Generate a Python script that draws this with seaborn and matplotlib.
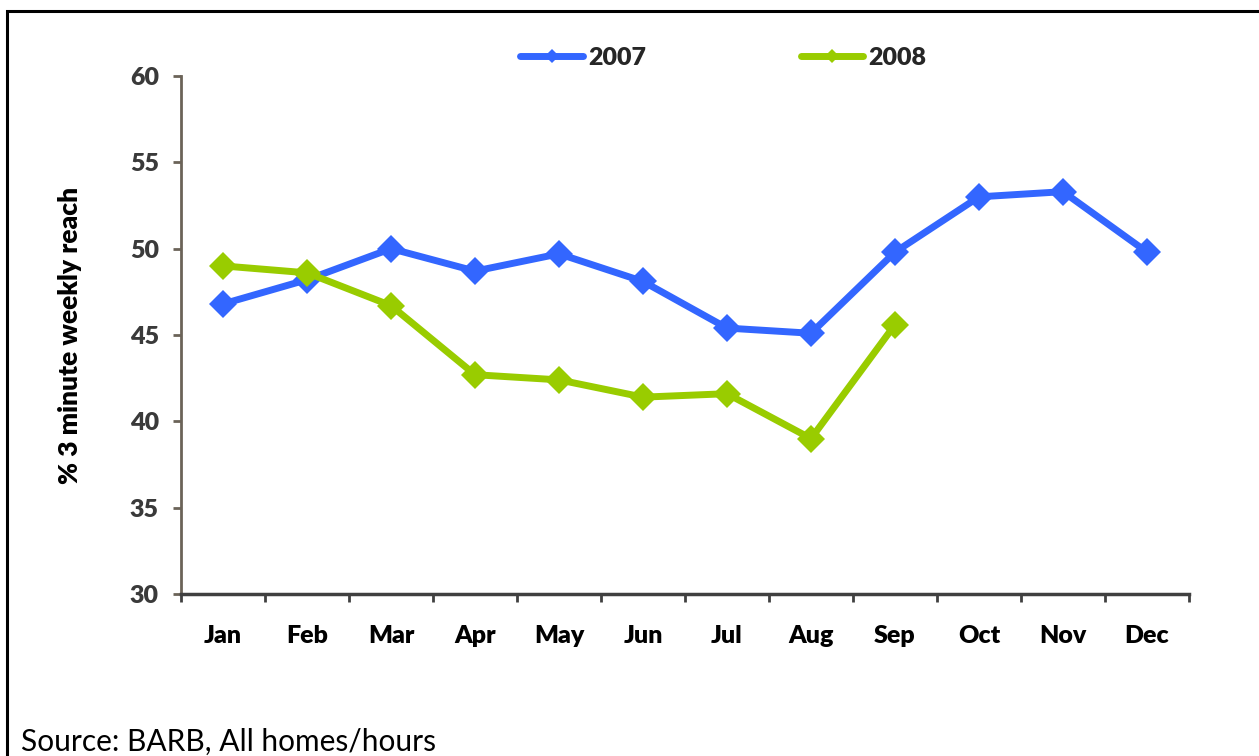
import pandas as pd
import seaborn as sns
import matplotlib.pyplot as plt
from matplotlib.patches import Rectangle

# data
months = ["Jan", "Feb", "Mar", "Apr", "May", "Jun", "Jul", "Aug", "Sep", "Oct", "Nov", "Dec"]
reach_2007 = [46.8, 48.2, 50.0, 48.7, 49.7, 48.1, 45.4, 45.1, 49.8, 53.0, 53.3, 49.8]
reach_2008 = [49.0, 48.6, 46.7, 42.7, 42.4, 41.4, 41.6, 39.0, 45.6]
y_ticks = [30, 35, 40, 45, 50, 55, 60]

rows = []
for i in range(len(reach_2007)):
    rows.append({"month": months[i], "reach": reach_2007[i], "year": "2007"})
for i in range(len(reach_2008)):
    rows.append({"month": months[i], "reach": reach_2008[i], "year": "2008"})
df = pd.DataFrame(rows)

sns.set_theme(style="white")
plt.rcParams["font.family"] = ["Lato", "DejaVu Sans"]

fig = plt.figure(figsize=(12.59, 7.56), dpi=100)
ax = fig.add_axes([0.1438, 0.2143, 0.8006, 0.6852])

sns.lineplot(data=df, x="month", y="reach", hue="year", style="year",
             palette={"2007": "#3366FF", "2008": "#99CC00"},
             markers={"2007": "D", "2008": "D"}, dashes=False,
             linewidth=5, markersize=14, markeredgewidth=0,
             sort=False, ax=ax)

ax.set_xlim(-0.5, 11.5)
ax.set_ylim(30, 60)
ax.set_yticks(y_ticks)
ax.set_xticks(range(len(months)))
ax.set_xticklabels(months)
ax.set_xticks([i - 0.5 for i in range(len(months) + 1)], minor=True)

ax.set_xlabel("")
ax.set_ylabel("% 3 minute weekly reach", fontsize=19, fontweight="heavy", color="black", labelpad=34)

for lab in ax.get_xticklabels():
    lab.set_fontweight("heavy")
for lab in ax.get_yticklabels():
    lab.set_fontweight("heavy")

ax.tick_params(axis="x", which="major", length=0, pad=22, labelsize=18, labelcolor="black")
ax.tick_params(axis="x", which="minor", bottom=True, length=6, width=2, color="#404040", direction="out")
ax.tick_params(axis="y", left=True, length=6, width=2, color="#6b6358", pad=10, labelsize=18, labelcolor="#3a3a3a")

ax.spines["top"].set_visible(False)
ax.spines["right"].set_visible(False)
ax.spines["left"].set_color("#6b6358")
ax.spines["left"].set_linewidth(2)
ax.spines["bottom"].set_color("#404040")
ax.spines["bottom"].set_linewidth(2.5)

handles, labels = ax.get_legend_handles_labels()
leg = ax.legend(handles, labels, loc="center", bbox_to_anchor=(0.538, 1.035), ncol=2,
                frameon=False, markerscale=0.5, handlelength=2.5, handletextpad=0.2,
                columnspacing=6.2, prop={"weight": "heavy", "size": 18})

fig.text(0.017, 0.007, "Source: BARB, All homes/hours", fontsize=21.5, color="black")

fig.patches.append(Rectangle((0.0055, -0.05), 1.5, 1.0354, transform=fig.transFigure,
                             fill=False, edgecolor="black", linewidth=2.2))

fig.savefig("out.png", dpi=100)
